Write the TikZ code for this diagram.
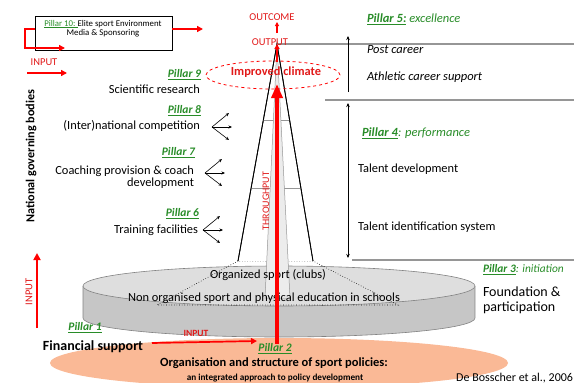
\documentclass[tikz,border=0pt]{standalone}
\usepackage{fontspec}
\setmainfont{Carlito}
\usetikzlibrary{arrows.meta,calc,shapes.geometric}
\definecolor{pgreen}{RGB}{40,140,40}
\definecolor{tred}{RGB}{225,25,25}
\definecolor{salmon}{RGB}{250,185,150}
\definecolor{disktop}{RGB}{222,222,222}
\definecolor{diskside}{RGB}{198,198,198}
\definecolor{diskedge}{RGB}{130,130,130}
\definecolor{rulegrey}{RGB}{150,150,150}
\definecolor{bandgrey}{RGB}{236,236,236}
\newcommand{\fsz}[2]{\fontsize{#1}{#2}\selectfont}
\begin{document}
\begin{tikzpicture}[x=1pt,y=-1pt,
  every node/.style={inner sep=0pt,outer sep=0pt},
  redarrow/.style={draw=red,line width=1.7pt,-{Triangle[length=6pt,width=6pt]}},
  redline/.style={draw=red,line width=1.7pt},
  fanarrow/.style={draw=black,line width=0.6pt,-{Stealth[length=3.5pt,width=3pt]}},
  pill/.style={text=pgreen,font=\fsz{11.5}{13}\bfseries\itshape},
  body/.style={font=\fsz{12.4}{12}},
  redtext/.style={text=tred,font=\fsz{10.5}{12}},
  ruleline/.style={draw=rulegrey,line width=1.1pt},
  dimarrow/.style={draw=black,line width=0.7pt},
  dotline/.style={draw=black,line width=0.6pt,dotted}]
\useasboundingbox (0,0) rectangle (574,383);

% ---------- policy base (orange) ----------
\fill[salmon] (279,363) ellipse [x radius=229, y radius=25];

% ---------- foundation disk ----------
\fill[diskside] (279,318) ellipse [x radius=196, y radius=19];
\fill[diskside] (83,286) rectangle (475,318);
\draw[diskedge,line width=0.6pt] (83,286) -- (83,318)
  arc[start angle=180,end angle=0,x radius=196,y radius=19] -- (475,286);
\draw[diskedge,line width=0.6pt,fill=disktop] (279,286) ellipse [x radius=196, y radius=20];

% ---------- pyramid ----------
\coordinate (apex) at (277,44);
\coordinate (bl) at (238,261);
\coordinate (br) at (313,261);
\coordinate (dl) at (157,305);
\coordinate (dr) at (398,305);
\draw[dotline] (bl) -- (dl) -- (dr) -- (br) -- (bl);
\draw[black,line width=0.8pt,fill=white] (bl) -- (apex) -- (br);
\draw[rulegrey,line width=0.6pt] ($(bl)!0.65!(apex)$) -- ($(br)!0.65!(apex)$);
\draw[rulegrey,line width=0.6pt] ($(bl)!0.336!(apex)$) -- ($(br)!0.336!(apex)$);
\coordinate (bandl) at (265,298);
\coordinate (bandr) at (290,298);
\draw[rulegrey,line width=0.5pt,fill=bandgrey] (apex) -- (bandl) -- (bandr) -- cycle;
\draw[black,line width=0.8pt] (bl) -- (apex) -- (br);

% ---------- level rules on the right ----------
\coordinate (r1e) at (574,44);
\coordinate (r2s) at (325,100);
\coordinate (r2e) at (574,100);
\coordinate (r3s) at (352,260);
\coordinate (r3e) at (574,260);
\draw[ruleline] (apex) -- (r1e);
\draw[ruleline] (r2s) -- (r2e);
\draw[ruleline] (r3s) -- (r3e);

% ---------- career span arrows ----------
\coordinate (u1) at (348,92);
\coordinate (u2) at (348,36);
\coordinate (l1) at (348,103);
\coordinate (l2) at (348,258);
\draw[dimarrow,-{Stealth[length=4pt,width=3.5pt]}] (u1) -- (u2);
\draw[dimarrow,{Stealth[length=4pt,width=3.5pt]}-{Stealth[length=4pt,width=3.5pt]}] (l1) -- (l2);

% ---------- texts on the disk ----------
\node[body] (orgsport) at (268,275) {Organized sport (clubs)};
\node[body] (nonorg) at (264,298) {Non organised sport and physical education in schools};

% ---------- improved climate ----------
\node[draw=red,dashed,line width=0.8pt,ellipse,minimum width=134pt,minimum height=28pt] (climate) at (273,75) {};
\node[text=tred,font=\fsz{12.4}{14}\bfseries] (climtxt) at (276,72) {Improved climate};

% ---------- throughput ----------
\node[rotate=90,text=tred,font=\fsz{10}{12}] (through) at (266,201) {THROUGHPUT};
\coordinate (thb) at (277,344);
\coordinate (tht) at (277,84);
\draw[red,line width=4pt,-{Triangle[length=14pt,width=11pt]}] (thb) -- (tht);
\coordinate (outb) at (277,62);
\draw[red,line width=1.4pt,-{Triangle[length=5pt,width=5pt]}] (outb) -- (apex);

% ---------- output / outcome ----------
\node[redtext] (output) at (270,42) {OUTPUT};
\node[redtext] (outcome) at (272,17) {OUTCOME};
\coordinate (oca) at (277,33);
\coordinate (ocb) at (277,22);
\draw[red,line width=1.2pt,-{Triangle[length=4pt,width=4pt]}] (oca) -- (ocb);

% ---------- pillar 10 ----------
\node[draw=black,line width=0.8pt,minimum width=137pt,minimum height=34pt] (p10box) at (103.5,33) {};
\node[font=\fsz{8.8}{9.5},align=center] (p10txt) at (103,28.5)
  {\textcolor{pgreen}{\underline{Pillar 10:\ }}Elite sport Environment\\Media \& Sponsoring};
\coordinate (lp1) at (25,29);
\coordinate (lp2) at (25,48);
\coordinate (lp3) at (65,48);
\draw[redline,-{Triangle[length=6pt,width=6pt]}] ([yshift=4pt]p10box.west) -- (lp1) -- (lp2) -- (lp3);
\coordinate (p10out) at (203,29);
\draw[redarrow] ([yshift=4pt]p10box.east) -- (p10out);

\node[redtext] (inputl) at (44,62) {INPUT};
\coordinate (ia) at (27,73);
\coordinate (ib) at (67,73);
\draw[redarrow] (ia) -- (ib);

% ---------- national governing bodies ----------
\node[rotate=90,font=\fsz{12.2}{14}\bfseries] (ngb) at (31,156) {National governing bodies};
\node[rotate=90,redtext] (inputv) at (29,292) {INPUT};
\coordinate (iva) at (37,328);
\coordinate (ivb) at (37,253);
\draw[red,line width=2.2pt,-{Triangle[length=7pt,width=7pt]}] (iva) -- (ivb);

% ---------- pillars 6 to 9 ----------
\node[pill,anchor=east] (p9) at (201,75) {\underline{Pillar 9}};
\node[body,anchor=east] (p9t) at (200,89) {Scientific research};
\node[pill,anchor=east] (p8) at (201,111) {\underline{Pillar 8}};
\node[body,anchor=east] (p8t) at (200,126) {(Inter)national competition};
\node[pill,anchor=east] (p7) at (195,153) {\underline{Pillar 7}};
\node[body,anchor=east,align=right] (p7t) at (194,177) {Coaching provision \& coach\\development};
\node[pill,anchor=east] (p6) at (199,214) {\underline{Pillar 6}};
\node[body,anchor=east] (p6t) at (198,230) {Training facilities};

\foreach \n/\ox/\oy in {8/212/127,7/205/173,6/203/230}{
  \coordinate (fan\n) at (\ox,\oy);
  \coordinate (fan\n a) at (\ox+17,\oy-14);
  \coordinate (fan\n b) at (\ox+20,\oy);
  \coordinate (fan\n c) at (\ox+17,\oy+13);
  \draw[fanarrow] (fan\n) -- (fan\n a);
  \draw[fanarrow] (fan\n) -- (fan\n b);
  \draw[fanarrow] (fan\n) -- (fan\n c);
}

% ---------- pillars 1 and 2 ----------
\node[pill] (p1) at (85,328) {\underline{Pillar 1}};
\node[font=\fsz{14}{16}\bfseries] (fin) at (93,347) {Financial support};
\coordinate (fa) at (152,343);
\coordinate (fb) at (257,341);
\draw[redarrow] (fa) -- (fb);
\node[text=tred,font=\fsz{9.5}{11}\bfseries] (inputh) at (196,333) {INPUT};
\node[pill] (p2) at (275,349) {\underline{Pillar 2}};
\node[font=\fsz{12.5}{14}\bfseries] (org) at (274,363) {Organisation and structure of sport policies:};
\node[font=\fsz{9.2}{10}\bfseries] (integ) at (275,378) {an integrated approach to policy development};

% ---------- pillars 3 to 5 ----------
\node[anchor=west,text=pgreen,font=\fsz{12.5}{14}] (p5) at (367,19)
  {\underline{\textbf{\textit{Pillar 5:}}} \textit{excellence}};
\node[anchor=west,font=\fsz{12.5}{14}\itshape] (post) at (367,50) {Post career};
\node[anchor=west,font=\fsz{12.5}{14}\itshape] (ath) at (367,77) {Athletic career support};
\node[anchor=west,text=pgreen,font=\fsz{12.5}{14}] (p4) at (362,133)
  {\underline{\textbf{\textit{Pillar 4}}}\textit{: performance}};
\node[body,anchor=west] (tdev) at (358,169) {Talent development};
\node[body,anchor=west] (tid) at (358,227) {Talent identification system};
\node[anchor=west,text=pgreen,font=\fsz{11.4}{13}] (p3) at (483,270)
  {\underline{\textbf{\textit{Pillar 3}}}\textit{: initiation}};
\node[anchor=west,align=left,font=\fsz{14}{15}] (found) at (483,300) {Foundation \&\\participation};
\node[anchor=east,font=\fsz{12}{13}] (ref) at (573,378) {De Bosscher et al., 2006};
\end{tikzpicture}
\end{document}
